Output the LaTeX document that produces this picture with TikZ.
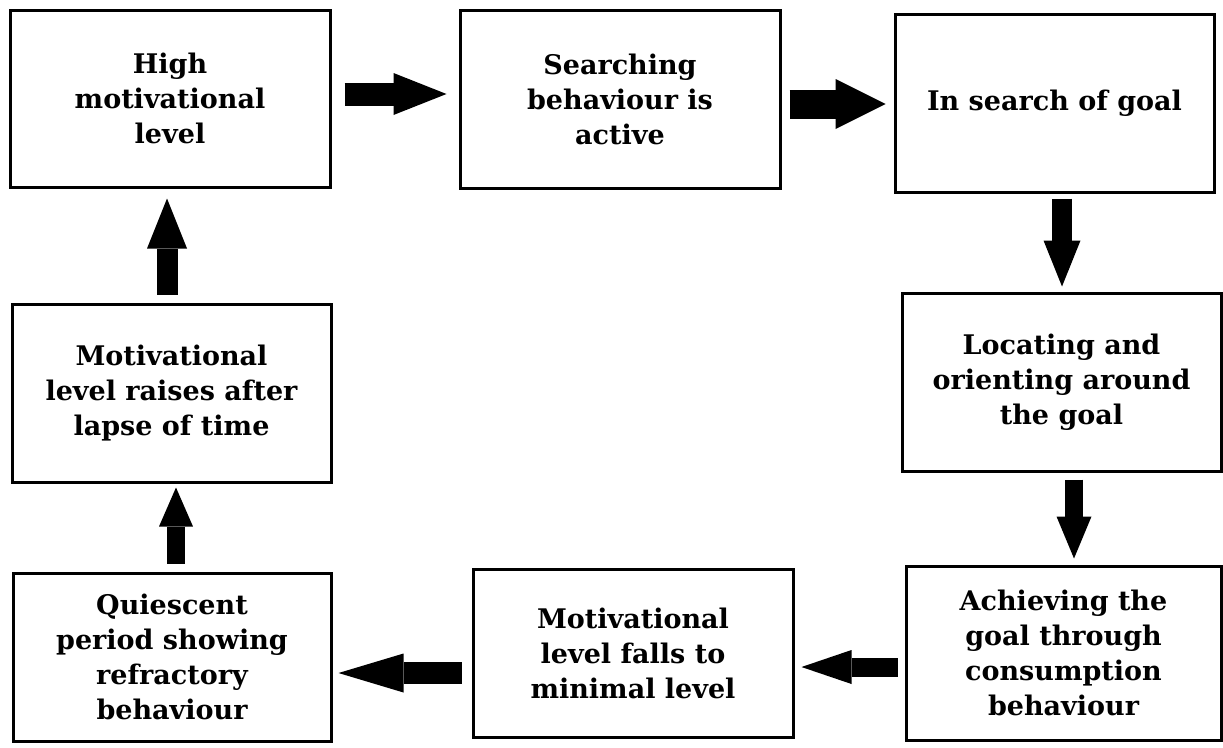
\documentclass[tikz,border=0pt]{standalone}
\usepackage{fontspec}
\setmainfont{DejaVu Serif}
\usepackage{tikz}
\usetikzlibrary{arrows.meta, positioning}
\newcommand{\stagefont}{\fontsize{27}{35}\selectfont\bfseries}
\tikzset{
  stage/.style={rectangle, draw=black, line width=3pt, minimum width=320pt,
    minimum height=178pt, align=center, inner sep=0pt, font=\stagefont},
  fatarrow/.style n args={3}{line width=#1, color=black,
    -{Triangle[length=#2, width=#3, line width=0pt 0 0]}},
}

\begin{document}
\begin{tikzpicture}[x=1pt, y=-1pt]
  \useasboundingbox (0,0) rectangle (1223,747);
  % top row
  \node[stage, minimum height=177pt] (high) at (170,98.5) {High\\motivational\\level};
  \node[stage] (search) at (620,99) {Searching\\behaviour is\\active};
  \node[stage, minimum width=319pt] (goal) at (1054.5,103) {In search of goal};
  % right column
  \node[stage, minimum width=319pt] (locate) at (1061.5,382) {Locating and\\orienting around\\the goal};
  \node[stage, minimum width=315pt, minimum height=174pt] (achieve) at (1063.5,653) {Achieving the\\goal through\\consumption\\behaviour};
  % bottom row
  \node[stage, minimum height=168pt] (falls) at (633,653) {Motivational\\level falls to\\minimal level};
  \node[stage, minimum width=318pt, minimum height=168pt] (quiet) at (172,657) {Quiescent\\period showing\\refractory\\behaviour};
  % left column
  \node[stage, minimum width=319pt] (raises) at (171.5,393) {Motivational\\level raises after\\lapse of time};

  \draw[fatarrow={23pt}{53pt}{42pt}, shorten <=13pt, shorten >=12pt]
    ([yshift=4.5pt]high.east) -- ([yshift=4.5pt]high.east -| search.west);
  \draw[fatarrow={29pt}{50pt}{50pt}, shorten <=8pt, shorten >=8pt]
    ([yshift=-5pt]search.east) -- ([yshift=-5pt]search.east -| goal.west);
  \draw[fatarrow={20pt}{46pt}{37pt}, shorten <=5pt, shorten >=5pt]
    ([xshift=7.5pt]goal.south) -- ([xshift=7.5pt]goal.south |- locate.north);
  \draw[fatarrow={18pt}{42pt}{35pt}, shorten <=7pt, shorten >=6pt]
    ([xshift=12.5pt]locate.south) -- ([xshift=12.5pt]locate.south |- achieve.north);
  \draw[fatarrow={19pt}{50pt}{34pt}, shorten <=7pt, shorten >=7pt]
    ([yshift=-14pt]achieve.west) -- ([yshift=-14pt]achieve.west -| falls.east);
  \draw[fatarrow={22pt}{65pt}{39pt}, shorten <=10pt, shorten >=6pt]
    ([yshift=-20pt]falls.west) -- ([yshift=-20pt]falls.west -| quiet.east);
  \draw[fatarrow={18pt}{39pt}{34pt}, shorten <=8pt, shorten >=4pt]
    ([xshift=4pt]quiet.north) -- ([xshift=4pt]quiet.north |- raises.south);
  \draw[fatarrow={21pt}{50pt}{40pt}, shorten <=8pt, shorten >=10pt]
    ([xshift=-4.5pt]raises.north) -- ([xshift=-4.5pt]raises.north |- high.south);
\end{tikzpicture}
\end{document}
